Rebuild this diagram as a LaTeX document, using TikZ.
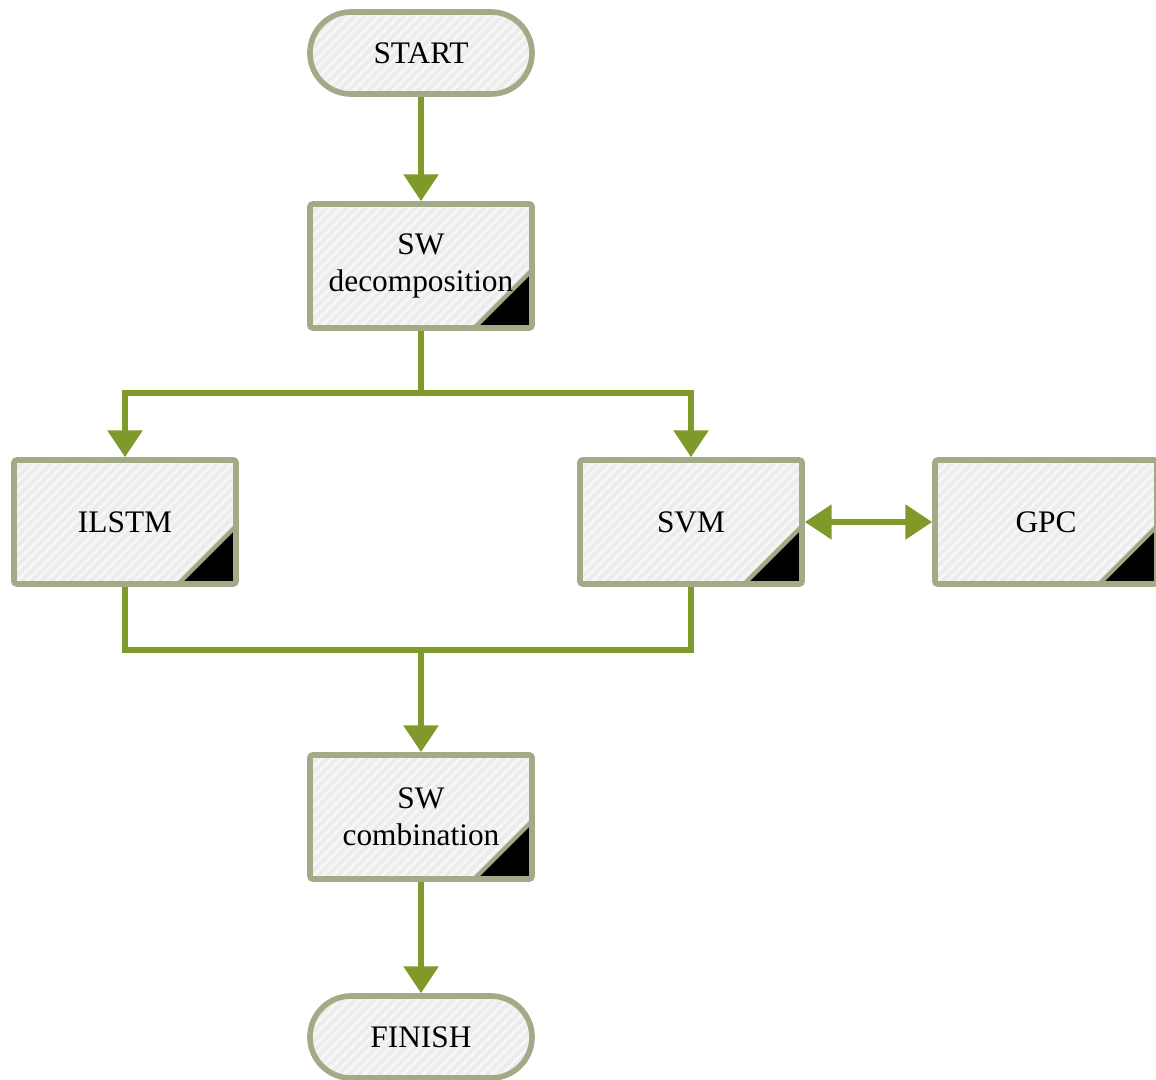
\documentclass[tikz,border=0pt]{standalone}
\usepackage{fontspec}
\setmainfont{Liberation Serif}
\usetikzlibrary{arrows.meta,shapes.misc,shadows}
\definecolor{bordercol}{HTML}{A3AA88}
\definecolor{fillcol}{HTML}{ECECEC}
\definecolor{stripecol}{HTML}{F6F6F6}
\definecolor{arrcol}{HTML}{7F9A2B}
\tikzset{
  stripes/.style={path picture={
      \foreach \k in {-40,...,40}
        \draw[stripecol, line width=2pt]
          ([xshift=\k*7pt]path picture bounding box.center) ++(-4cm,-4cm) -- ++(8cm,8cm);
      #1}},
  base/.style={draw=bordercol, line width=4pt, align=center,
    font=\fontsize{22.3}{26.3}\selectfont, fill=fillcol,
    drop shadow={shadow xshift=1pt,shadow yshift=-1.5pt,opacity=0.2}},
  procbox/.style={base, rectangle, rounded corners=2pt,
    minimum width=5.55cm, minimum height=3.1cm, inner sep=0pt,
    stripes={
      \fill[black] ([yshift=1.45cm]path picture bounding box.south east) --
        (path picture bounding box.south east) -- ([xshift=-1.45cm]path picture bounding box.south east) -- cycle;
      \draw[bordercol, line width=3pt] ([yshift=1.45cm]path picture bounding box.south east) --
        ([xshift=-1.45cm]path picture bounding box.south east);
    }},
  termbox/.style={base, rounded rectangle, rounded rectangle arc length=180,
    minimum width=5.55cm, minimum height=2.05cm, inner sep=0pt, stripes={}},
  conn/.style={draw=arrcol, line width=4.2pt},
  arr/.style={conn, -{Triangle[width=24pt,length=19pt]}},
  darr/.style={conn, {Triangle[width=24pt,length=19pt]}-{Triangle[width=24pt,length=19pt]}}
}
\begin{document}
\begin{tikzpicture}[x=0.025cm,y=-0.025cm]
\useasboundingbox (0,0) rectangle (1156,1079);
\node[termbox] (start) at (421,53) {START};
\node[procbox] (swd) at (421,266) {SW\\decomposition};
\node[procbox] (ilstm) at (125,522) {ILSTM};
\node[procbox] (svm) at (691,522) {SVM};
\node[procbox] (gpc) at (1046,522) {GPC};
\node[procbox] (swc) at (421,817) {SW\\combination};
\node[termbox] (finish) at (421,1037) {FINISH};
\coordinate (split) at (421,393);
\coordinate (merge) at (421,650);
\draw[arr] (start) -- (swd);
\draw[conn] (swd) -- (split);
\draw[arr] (split) -| (ilstm.north);
\draw[arr] (split) -| (svm.north);
\draw[conn] (ilstm.south) |- (merge);
\draw[conn] (svm.south) |- (merge);
\draw[arr] (merge) -- (swc);
\draw[darr] (svm) -- (gpc);
\draw[arr] (swc) -- (finish);
\end{tikzpicture}
\end{document}
